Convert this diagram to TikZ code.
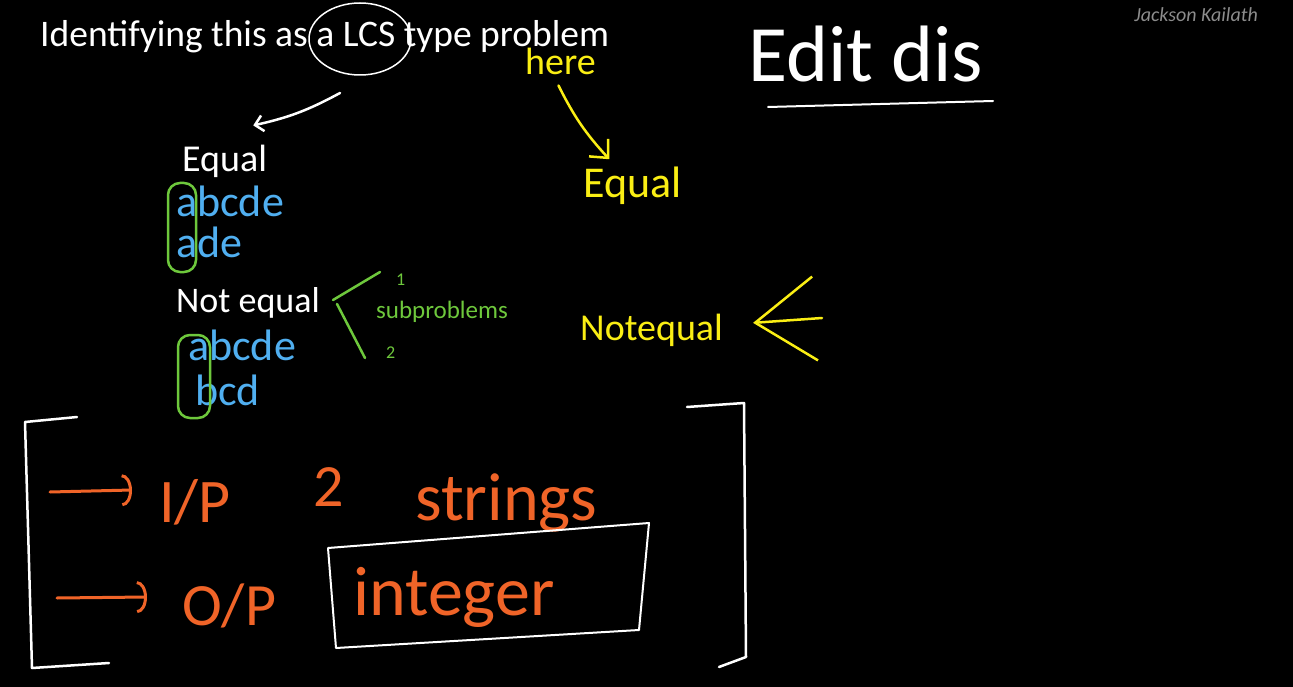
\documentclass[tikz,border=0pt]{standalone}
\usepackage{fontspec}
\setmainfont{Carlito}
\usetikzlibrary{arrows.meta, shapes.geometric}
\definecolor{board}{RGB}{0, 0, 0}
\definecolor{chalkblue}{RGB}{80, 175, 240}
\definecolor{chalkgreen}{RGB}{110, 200, 60}
\definecolor{chalkyellow}{RGB}{250, 238, 20}
\definecolor{chalkorange}{RGB}{240, 100, 40}
\definecolor{signgray}{RGB}{140, 140, 140}
\newcommand{\pen}[1]{\fontsize{#1}{#1}\selectfont}

\begin{document}
\begin{tikzpicture}[x=1pt, y=-1pt,
  every node/.style={inner sep=0pt, anchor=base west},
  ink/.style={line width=2.5pt, line cap=round, line join=round}]

  % board
  \fill[board] (0, 0) rectangle (1293, 687);
  \useasboundingbox (0, 0) rectangle (1293, 687);

  % heading
  \node[white] (title) at (40, 47) {\pen{37.5}Identifying this as a LCS type problem};
  \node[signgray, anchor=base east] (sign) at (1258, 22) {\pen{20}\itshape Jackson Kailath};
  \node[white, draw, ink, line width=1.5pt, ellipse, minimum width=102pt,
    minimum height=72pt, anchor=center] (ring) at (360, 39) {};

  % left column
  \node[white] (eqw) at (182, 172) {\pen{38}Equal};
  \node[chalkblue] (sa) at (176, 217) {\pen{44}abcde};
  \node[chalkblue] (sb) at (176, 257) {\pen{44}ade};
  \node[white] (neqw) at (176, 312) {\pen{36}Not equal};
  \node[chalkblue] (sc) at (188, 360) {\pen{44}abcde};
  \node[chalkblue] (sd) at (195, 405) {\pen{44}bcd};
  \draw[chalkgreen, ink, rounded corners=12pt] (168, 183) rectangle (196, 272);
  \draw[chalkgreen, ink, rounded corners=12pt] (178, 335) rectangle (210, 418);

  \draw[chalkgreen, ink] (380, 272) -- (333, 300);
  \draw[chalkgreen, ink] (337, 304) -- (365, 358);
  \node[chalkgreen] (one) at (396, 285) {\pen{18}1};
  \node[chalkgreen] (sub) at (376, 318) {\pen{25}subproblems};
  \node[chalkgreen] (two) at (386, 358) {\pen{18}2};

  \coordinate (ringfoot) at (340, 93);
  \draw[white, ink, -{Straight Barb[length=8pt, width=16pt]}]
    (ringfoot) to[bend left=8] ([xshift=-14pt, yshift=20pt]eqw.north east);

  % yellow notes
  \node[chalkyellow] (here) at (525, 75) {\pen{38}here};
  \node[chalkyellow] (eqy) at (583, 198) {\pen{44}Equal};
  \node[chalkyellow] (neqy) at (580, 340) {\pen{38}Notequal};
  \draw[chalkyellow, ink, -{Straight Barb[length=14pt, width=26pt]}]
    ([xshift=-2pt, yshift=-10pt]here.south) to[bend right=8] ([xshift=-23pt, yshift=8pt]eqy.north);
  \coordinate (nqfrom) at (822, 318);
  \draw[chalkyellow, ink, -{Straight Barb[length=60pt, width=84pt]}]
    (nqfrom) -- ([xshift=30pt, yshift=7pt]neqy.east);

  % top right
  \node[white] (edit) at (748, 82) {\pen{80}Edit dis};
  \draw[white, ink, line width=2pt] (768, 107) -- (993, 101);

  % input / output
  \node[chalkorange] (ip) at (159, 522) {\pen{62}I/P};
  \node[chalkorange] (ipn) at (313, 506) {\pen{60}2};
  \node[chalkorange] (ipw) at (415, 520) {\pen{68}strings};
  \node[chalkorange] (op) at (182, 625) {\pen{60}O/P};
  \node[chalkorange] (opw) at (353, 615) {\pen{70}integer};
  \coordinate (ipfrom) at (50, 492);
  \coordinate (opfrom) at (57, 598);
  \draw[chalkorange, ink, line width=3pt, -{Arc Barb[length=10pt, width=32pt]}]
    (ipfrom) -- ([xshift=-27pt, yshift=32pt]ip.base west);
  \draw[chalkorange, ink, line width=3pt, -{Arc Barb[length=10pt, width=32pt]}]
    (opfrom) -- ([xshift=-35pt, yshift=28pt]op.base west);

  \draw[white, ink, line width=2pt] (328, 548) -- (649, 523) -- (639, 630) -- (336, 648) -- cycle;
  \draw[white, ink] (77, 417) -- (25, 422) -- (32, 668) -- (109, 663);
  \draw[white, ink] (687, 407) -- (744, 403) -- (746, 657) -- (719, 667);

\end{tikzpicture}
\end{document}
